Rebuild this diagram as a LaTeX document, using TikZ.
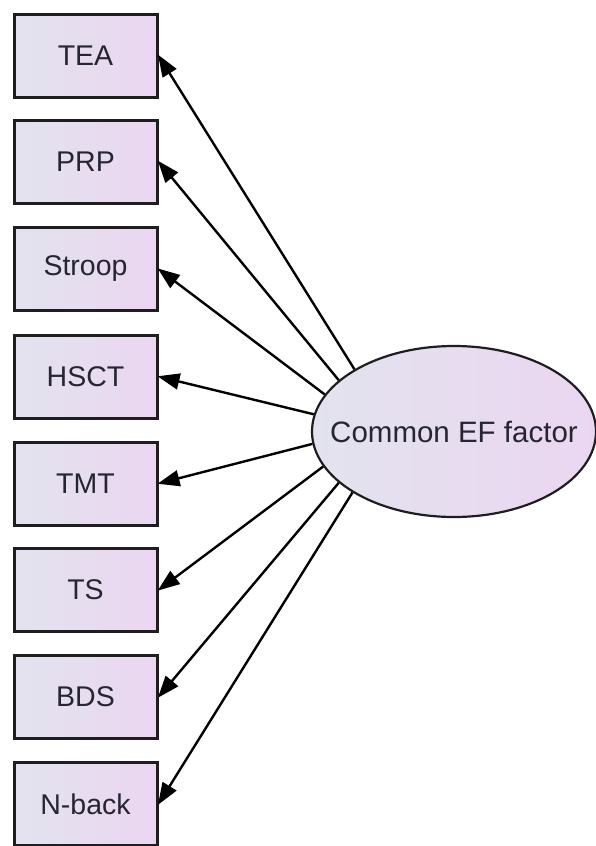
\documentclass[tikz,border=0pt]{standalone}
\usepackage{fontspec}
\setmainfont{Liberation Sans}
\usetikzlibrary{shapes.geometric,arrows.meta}
\definecolor{fillL}{HTML}{E2E3EE}
\definecolor{fillR}{HTML}{EBD6F1}
\definecolor{txt}{HTML}{262632}
\definecolor{edge}{HTML}{1E1E1E}
\tikzset{
  obs/.style={draw=edge, line width=3pt, left color=fillL, right color=fillR,
    minimum width=143pt, minimum height=83pt, inner sep=0pt,
    font=\fontsize{28.5}{30}\selectfont, text=txt},
  lat/.style={ellipse, draw=edge, line width=2.2pt, left color=fillL, right color=fillR,
    minimum width=284pt, minimum height=171pt, inner sep=0pt},
  latlabel/.style={font=\fontsize{29.5}{32}\selectfont, text=txt, inner sep=0pt},
  load/.style={draw=black, line width=2.4pt, -{Triangle[length=22pt,width=16pt]}, shorten >=-1pt}
}
\begin{document}
\begin{tikzpicture}[x=1pt,y=1pt]
\useasboundingbox (0,0) rectangle (595,-846);
\node[obs] (tea) at (85.5,-55.5) {TEA};
\node[obs] (prp) at (85.5,-161.5) {PRP};
\node[obs] (stroop) at (85.5,-269) {Stroop};
\node[obs] (hsct) at (85.5,-376.5) {HSCT};
\node[obs] (tmt) at (85.5,-483.5) {TMT};
\node[obs] (ts) at (85.5,-590) {TS};
\node[obs] (bds) at (85.5,-697) {BDS};
\node[obs] (nback) at (85.5,-804) {N-back};
\node[lat] (ef) at (454,-431.5) {};
\node[latlabel] (eftext) at (ef.center) {Common EF factor};
\draw[load] (ef.148) -- (tea.east);
\draw[load] (ef.156) -- (prp.east);
\draw[load] (ef.164) -- (stroop.east);
\draw[load] (ef.173) -- (hsct.east);
\draw[load] (ef.185) -- (tmt.east);
\draw[load] (ef.195) -- (ts.east);
\draw[load] (ef.204) -- (bds.east);
\draw[load] (ef.211) -- (nback.east);
\end{tikzpicture}
\end{document}
